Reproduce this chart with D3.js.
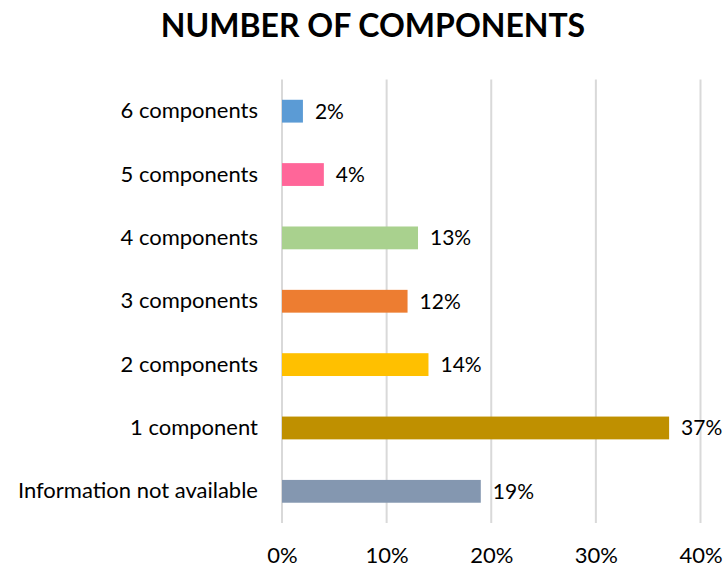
<!DOCTYPE html>
<html>
<head>
<meta charset="utf-8">
<script src="https://cdn.jsdelivr.net/npm/d3@7"></script>
<style>
  html, body { margin: 0; padding: 0; background: #ffffff; }
  svg { display: block; font-family: Lato, "Open Sans", sans-serif; }
</style>
</head>
<body>
<svg id="chart" width="725" height="568"></svg>
<script>
// Categories listed top to bottom
const categories = [
  "6 components",
  "5 components",
  "4 components",
  "3 components",
  "2 components",
  "1 component",
  "Information not available"
];
const shares = [0.02, 0.04, 0.13, 0.12, 0.14, 0.37, 0.19];
const barColors = ["#5B9BD5", "#FF6699", "#A9D18E", "#ED7D31", "#FFC000", "#BF9000", "#8497B0"];
const tickValues = [0, 0.1, 0.2, 0.3, 0.4];
const titleText = "NUMBER OF COMPONENTS";

const data = categories.map((c, i) => ({ cat: c, value: shares[i], color: barColors[i] }));

const svg = d3.select("#chart");
const plot = { left: 282, right: 700.5, top: 79.5, bottom: 523 };
const labelSize = 22;
const valueSize = 21;

const x = d3.scaleLinear().domain([0, 0.4]).range([plot.left, plot.right]);
const y = d3.scaleBand()
  .domain(categories)
  .range([plot.top, plot.bottom])
  .paddingInner(0.64)
  .paddingOuter(0.32);

// Title
svg.append("text")
  .attr("x", 373)
  .attr("y", 37)
  .attr("text-anchor", "middle")
  .attr("font-size", 32)
  .attr("font-weight", "bold")
  .attr("fill", "#000")
  .text(titleText);

// Vertical gridlines
svg.append("g")
  .selectAll("line")
  .data(tickValues)
  .join("line")
  .attr("x1", d => x(d))
  .attr("x2", d => x(d))
  .attr("y1", plot.top)
  .attr("y2", plot.bottom)
  .attr("stroke", "#D9D9D9")
  .attr("stroke-width", 2);

// X axis tick labels
const xAxis = d3.axisBottom(x)
  .tickValues(tickValues)
  .tickFormat(d3.format(".0%"))
  .tickSize(0)
  .tickPadding(0);
const xg = svg.append("g")
  .attr("transform", `translate(0, 547)`)
  .call(xAxis);
xg.select(".domain").remove();
xg.selectAll("text")
  .attr("font-size", labelSize)
  .attr("font-family", "Lato, 'Open Sans', sans-serif")
  .attr("fill", "#000")
  .attr("dy", "0.72em");

// Category axis labels
const yAxis = d3.axisLeft(y).tickSize(0).tickPadding(24);
const yg = svg.append("g")
  .attr("transform", `translate(${plot.left}, 0)`)
  .call(yAxis);
yg.select(".domain").remove();
yg.selectAll("text")
  .attr("font-size", labelSize)
  .attr("font-family", "Lato, 'Open Sans', sans-serif")
  .attr("fill", "#000");

// Bars
svg.append("g")
  .selectAll("rect")
  .data(data)
  .join("rect")
  .attr("x", x(0))
  .attr("y", d => y(d.cat))
  .attr("width", d => x(d.value) - x(0))
  .attr("height", y.bandwidth())
  .attr("fill", d => d.color);

// Value labels
svg.append("g")
  .selectAll("text")
  .data(data)
  .join("text")
  .attr("x", d => x(d.value) + 12)
  .attr("y", d => y(d.cat) + y.bandwidth() / 2)
  .attr("dy", "0.35em")
  .attr("font-size", valueSize)
  .attr("fill", "#000")
  .text(d => d3.format(".0%")(d.value));
</script>
</body>
</html>
